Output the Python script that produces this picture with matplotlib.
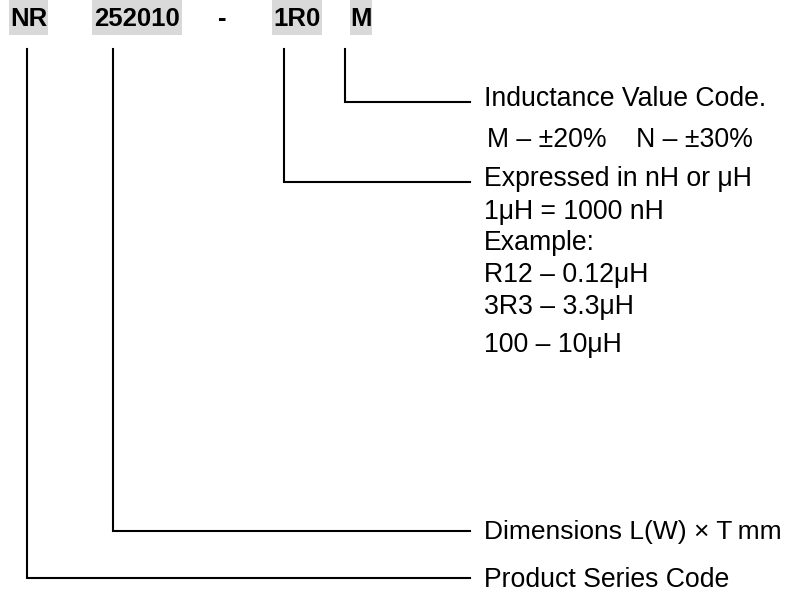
import matplotlib
matplotlib.use("Agg")
import matplotlib.pyplot as plt
from matplotlib.patches import Rectangle

# ---- content ----
codes = ["NR", "252010", "-", "1R0", "M"]
code_boxed = [True, True, False, True, True]
# leader lines: code index for each description
leader_codes = [4, 3, 1, 0]
leader_labels = ["Inductance Value Code.", "Expressed in nH or \u03bcH",
                 "Dimensions L(W) \u00d7 T\u2009mm", "Product Series Code"]
extra_lines = ["M \u2013 \u00b120%    N \u2013 \u00b130%"]
inductance_lines = ["1\u03bcH = 1000 nH", "Example:", "R12 \u2013 0.12\u03bcH",
                    "3R3 \u2013 3.3\u03bcH", "100 \u2013 10\u03bcH"]

# ---- layout (pixel coordinates) ----
W, H = 785, 594
box_x = [(9, 48), (92, 182), (215, 230), (272, 322), (350, 372)]
line_x = [27, 113, None, 284, 345]
leader_y = [101.5, 181.5, 531, 577.5]
label_y = [99, 179, 532, 580]
label_fs = [19.2, 19.2, 19.0, 19.2]
line_top = 49
line_end = 470
text_x = 484
FS = 19.2

plt.rcParams['font.family'] = ['Liberation Sans', 'DejaVu Sans']
fig = plt.figure(figsize=(W / 100, H / 100), dpi=100)
ax = fig.add_axes([0, 0, 1, 1])
ax.set_xlim(0, W)
ax.set_ylim(H, 0)
ax.axis('off')

for (x0, x1), code, boxed in zip(box_x, codes, code_boxed):
    if boxed:
        ax.add_patch(Rectangle((x0, 0), x1 - x0, 35, facecolor='#d9d9d9',
                               edgecolor='none'))
    ax.text((x0 + x1) / 2, 19, code, ha='center', va='center',
            fontsize=18.5, fontweight='bold', color='black')

for ci, y, ty, lab, fs in zip(leader_codes, leader_y, label_y, leader_labels, label_fs):
    x = line_x[ci]
    ax.plot([x, x, line_end], [line_top, y, y], color='black', lw=1.5,
            solid_joinstyle='miter')
    ax.text(text_x, ty, lab, ha='left', va='center', fontsize=fs)

ax.text(text_x + 3, 140, extra_lines[0], ha='left', va='center', fontsize=FS)
for y, t in zip([212, 243, 275, 307, 345], inductance_lines):
    ax.text(text_x, y, t, ha='left', va='center', fontsize=FS)

fig.savefig("out.png", dpi=100, facecolor='white')
